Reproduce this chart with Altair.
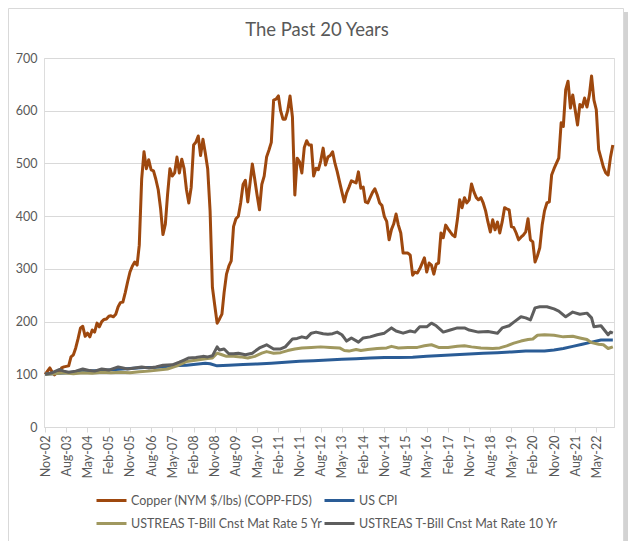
import altair as alt
import pandas as pd

# ---------------- data ----------------
start_month = "2002-11-01"
n_months = 242  # Nov-02 ... Dec-22

series_names = [
    "Copper (NYM $/lbs) (COPP-FDS)",
    "US CPI",
    "USTREAS T-Bill Cnst Mat Rate 5 Yr",
    "USTREAS T-Bill Cnst Mat Rate 10 Yr",
]
series_colors = ["#9E480E", "#2A5C96", "#A0985F", "#5E5E5E"]

# Copper, one value per month from Nov-02
copper = [
    100, 106, 112, 104, 99, 103, 104, 112, 114, 115, 116, 133,
    137, 150, 168, 188, 191, 172, 178, 171, 184, 180, 197, 190,
    200, 204, 205, 210, 211, 209, 214, 228, 236, 237, 255, 275,
    294, 305, 313, 307, 345, 470, 522, 490, 507, 488, 486, 470,
    450, 415, 365, 385, 440, 490, 476, 482, 512, 482, 508, 490,
    450, 425, 455, 535, 540, 552, 515, 546, 520, 490, 410, 265,
    230, 197, 205, 214, 255, 290, 305, 315, 380, 395, 400, 425,
    460, 468, 427, 465, 499, 470, 440, 412, 460, 476, 512, 525,
    540, 620, 622, 628, 600, 584, 584, 600, 628, 588, 440, 510,
    503, 482, 530, 543, 535, 535, 476, 491, 488, 505, 529, 497,
    512, 515, 522, 500, 485, 465, 446, 427, 444, 455, 467, 465,
    463, 484, 453, 455, 427, 425, 435, 445, 452, 440, 425, 420,
    399, 390, 355, 375, 385, 404, 383, 368, 330, 330, 330, 326,
    288, 294, 292, 300, 310, 321, 294, 311, 307, 290, 309, 311,
    368, 359, 383, 376, 370, 364, 361, 393, 431, 416, 435, 425,
    431, 461, 446, 435, 431, 435, 425, 410, 389, 370, 393, 374,
    389, 368, 389, 416, 414, 412, 380, 378, 368, 355, 360, 364,
    370, 395, 355, 351, 313, 325, 340, 383, 410, 425, 427, 478,
    490, 500, 510, 577, 570, 640, 656, 605, 630, 602, 573, 612,
    607, 624, 607, 630, 666, 620, 602, 526, 510, 493, 482, 478,
    512, 535,
]

# US CPI, readings at month offsets from Nov-02
cpi_month = [0, 6, 12, 18, 24, 30, 36, 42, 48, 54, 60, 64, 68, 70, 73, 78, 84, 90,
             96, 102, 108, 114, 120, 126, 132, 138, 144, 150, 156, 162, 168, 174,
             180, 186, 192, 198, 204, 208, 212, 216, 220, 224, 228, 232, 236, 241]
cpi_value = [100, 102, 104, 106, 107, 109, 111, 113, 113.5, 116, 117, 119, 121, 120,
             116, 117, 118.5, 119.5, 121, 123, 124.5, 125.5, 127, 128.5, 129.5, 131,
             132, 132, 132.5, 134, 135.5, 137, 138.5, 140, 141, 142.5, 144, 144, 144,
             146, 149, 153, 157, 161, 165, 165]

# 5 Yr
t5_month = [0, 4, 8, 12, 16, 20, 24, 28, 32, 36, 40, 44, 48, 52, 56, 60, 63, 66, 69,
            71, 73, 75, 77, 80, 83, 86, 89, 92, 94, 97, 100, 103, 106, 109, 113, 117,
            121, 125, 127, 129, 132, 134, 137, 141, 145, 147, 150, 154, 158, 161, 164,
            167, 171, 175, 178, 181, 185, 190, 193, 196, 199, 202, 205, 207, 209, 212,
            216, 220, 224, 227, 230, 232, 235, 237, 239, 241]
t5_value = [100, 101, 103, 101, 103, 102, 104, 103, 104, 103, 105, 106, 108, 110, 116,
            124, 126, 128, 130, 131, 140, 137, 134, 134, 133, 131, 134, 140, 143, 140,
            141, 145, 148, 150, 151, 152, 151, 150, 145, 144, 147, 145, 147, 149, 150,
            153, 150, 151, 151, 154, 156, 151, 151, 153, 154, 152, 150, 149, 150, 154,
            159, 163, 166, 167, 174, 175, 174, 171, 172, 169, 166, 160, 157, 156, 149,
            152]

# 10 Yr
t10_month = [0, 3, 6, 8, 10, 13, 16, 19, 21, 24, 27, 31, 35, 38, 41, 44, 47, 50, 54,
             57, 59, 61, 64, 67, 69, 71, 73, 74, 76, 78, 80, 82, 85, 88, 91, 94, 97,
             100, 102, 105, 107, 109, 111, 113, 115, 118, 120, 122, 124, 126, 127, 128,
             130, 133, 135, 138, 141, 144, 147, 149, 152, 155, 157, 159, 162, 164, 166,
             169, 172, 175, 178, 180, 184, 188, 192, 194, 197, 199, 202, 204, 206, 208,
             210, 213, 216, 218, 221, 224, 227, 230, 232, 233, 236, 239, 240, 241]
t10_value = [100, 103, 109, 106, 104, 106, 110, 107, 106, 110, 108, 114, 110, 112, 114,
             112, 114, 117, 118, 123, 127, 131, 132, 134, 133, 135, 152, 146, 148, 139,
             139, 140, 137, 140, 150, 156, 148, 148, 152, 167, 168, 171, 169, 178, 180,
             177, 176, 177, 180, 175, 169, 163, 169, 161, 169, 171, 175, 178, 188, 182,
             178, 182, 180, 190, 190, 197, 192, 180, 184, 188, 188, 184, 180, 181, 178,
             188, 192, 199, 209, 207, 203, 226, 228, 228, 224, 220, 209, 218, 214, 216,
             207, 190, 192, 175, 180, 178]

y_ticks = [0, 100, 200, 300, 400, 500, 600, 700]

# ---------------- table ----------------
months = pd.date_range(start_month, periods=n_months, freq="MS")


def iso(ts):
    return ts.strftime("%Y-%m-%dT00:00:00")


rows = []
for k, v in enumerate(copper):
    rows.append({"date": iso(months[k]), "series": series_names[0], "value": v})
for name, ks, vs in [(series_names[1], cpi_month, cpi_value),
                     (series_names[2], t5_month, t5_value),
                     (series_names[3], t10_month, t10_value)]:
    for k, v in zip(ks, vs):
        rows.append({"date": iso(months[k]), "series": name, "value": v})
df = pd.DataFrame(rows)

tick_dates = [alt.DateTime(year=int(d.year), month=int(d.month), date=1) for d in months[::9]]

FONT = "Lato"
TXT = "#595959"
GRID = "#D9D9D9"

color_scale = alt.Scale(domain=series_names, range=series_colors)

x_enc = alt.X(
    "date:T",
    scale=alt.Scale(domain=[alt.DateTime(year=2002, month=10, date=17),
                            alt.DateTime(year=2022, month=12, date=16)]),
    axis=alt.Axis(values=tick_dates, format="%b-%y", labelAngle=-90, title=None,
                  grid=False, domainColor=GRID, tickColor=GRID, tickSize=5,
                  labelColor=TXT, labelFont=FONT, labelFontSize=12.5, labelPadding=3),
)
y_enc = alt.Y(
    "value:Q",
    scale=alt.Scale(domain=[0, 700], nice=False),
    axis=alt.Axis(values=y_ticks, title=None, domain=False, ticks=False, grid=True,
                  gridColor=GRID, labelColor=TXT, labelFont=FONT, labelFontSize=12.5,
                  labelPadding=7),
)
color_enc = alt.Color(
    "series:N",
    scale=color_scale,
    legend=alt.Legend(
        title=None, orient="none", legendX=51, legendY=426, columns=2,
        direction="horizontal", symbolType="stroke", symbolSize=900,
        symbolStrokeWidth=3, labelFont=FONT, labelFontSize=12.5, labelColor=TXT,
        labelOffset=3, columnPadding=-17, rowPadding=-6, padding=0, labelLimit=400,
    ),
)

base = alt.Chart(df).mark_line(strokeWidth=3, strokeJoin="round").encode(
    x=x_enc, y=y_enc, color=color_enc
)
lines = [base.transform_filter(alt.datum.series == nm) for nm in series_names]

frame_df = pd.DataFrame({"a": [0]})
frame = alt.Chart(frame_df).mark_rect(fill=None, stroke="#D9D9D9", strokeWidth=1).encode(
    x=alt.value(-35.5), x2=alt.value(579.5), y=alt.value(-49.5), y2=alt.value(483.5)
)
shadow_r = alt.Chart(frame_df).mark_rule(stroke="#C8C8C8", strokeWidth=4, opacity=0.8).encode(
    x=alt.value(582), y=alt.value(-46), y2=alt.value(487)
)
shadow_b = alt.Chart(frame_df).mark_rule(stroke="#C8C8C8", strokeWidth=4, opacity=0.8).encode(
    x=alt.value(-32), x2=alt.value(584), y=alt.value(486)
)

chart = alt.layer(frame, shadow_r, shadow_b, *lines).properties(
    width=570,
    height=369,
    title=alt.TitleParams("The Past 20 Years", font=FONT, fontSize=18.5, fontWeight="normal",
                          color=TXT, anchor="middle", dx=-12, offset=-46,
                          baseline="alphabetic", frame="group"),
    autosize=alt.AutoSizeParams(type="none"),
    padding={"left": 36, "top": 50, "right": 16, "bottom": 114},
).configure_view(stroke=None).configure(background="white")

chart.save("out.html", embed_options={"renderer": "svg", "actions": False})
